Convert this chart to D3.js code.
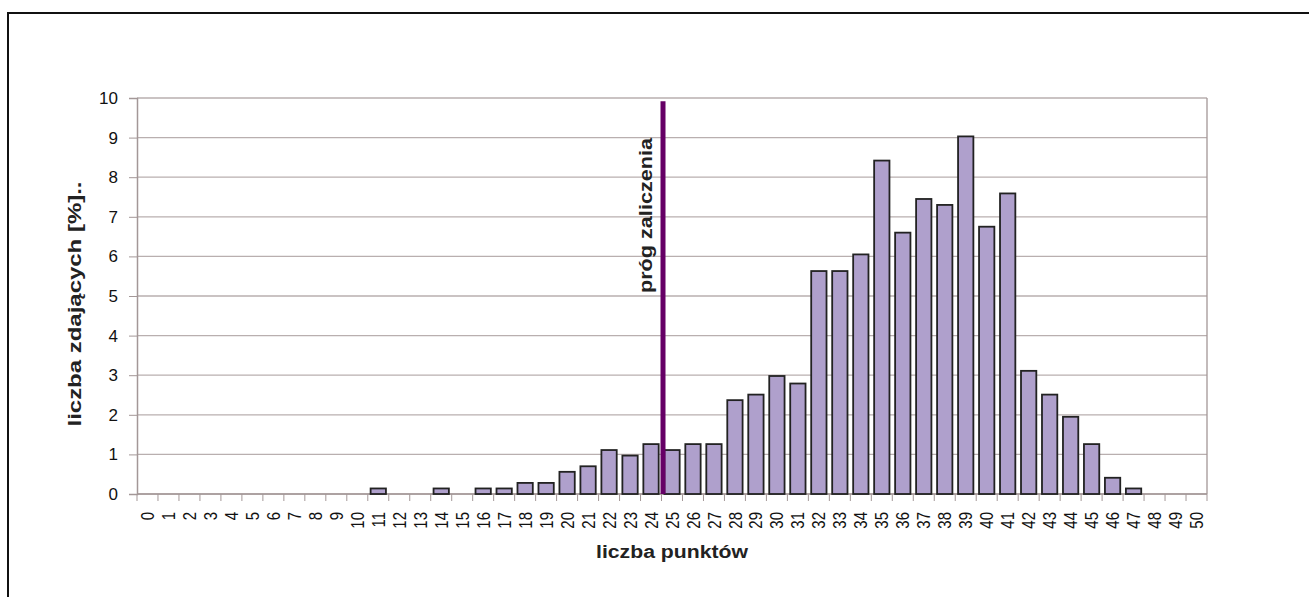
<!DOCTYPE html>
<html>
<head>
<meta charset="utf-8">
<script src="https://cdn.jsdelivr.net/npm/d3@7"></script>
<style>
  body { margin: 0; background: #fff; }
  svg { display: block; font-family: "Liberation Sans", Arial, sans-serif; }
</style>
</head>
<body>
<svg id="chart" width="1309" height="597"></svg>
<script>
// punkty 0..50
var points = d3.range(0, 51);
// procent zdajacych dla kazdej liczby punktow
var percent = [0, 0, 0, 0, 0, 0, 0, 0, 0, 0, 0, 0.14, 0, 0, 0.14, 0, 0.14, 0.14, 0.28, 0.28,
               0.56, 0.70, 1.11, 0.97, 1.26, 1.11, 1.26, 1.26, 2.37, 2.51, 2.98, 2.79, 5.63, 5.63, 6.05,
               8.42, 6.60, 7.45, 7.30, 9.03, 6.75, 7.59, 3.11, 2.51, 1.95, 1.26, 0.41, 0.14, 0, 0, 0];
var yTicks = d3.range(0, 11);
var threshold = 25;

var margin = {top: 98, right: 102, bottom: 103, left: 137},
    width = 1309 - margin.left - margin.right,
    height = 597 - margin.top - margin.bottom;

var svg = d3.select("#chart");

// ramka
svg.append("rect")
    .attr("x", 8).attr("y", 13)
    .attr("width", 1320).attr("height", 620)
    .attr("fill", "none")
    .attr("stroke", "#111")
    .attr("stroke-width", 2);

var g = svg.append("g")
    .attr("transform", "translate(" + margin.left + "," + margin.top + ")");

var x = d3.scaleBand()
    .domain(points)
    .range([0, width])
    .paddingInner(0.27)
    .paddingOuter(0.135);

var y = d3.scaleLinear()
    .domain([0, 10])
    .range([height, 0]);

var gridColor = "#b9afaf";
var axisColor = "#a39797";

// linie siatki
g.selectAll(".grid")
    .data(yTicks)
    .enter()
    .append("line")
    .attr("class", "grid")
    .attr("x1", 0)
    .attr("x2", width)
    .attr("y1", function(d) { return y(d); })
    .attr("y2", function(d) { return y(d); })
    .attr("stroke", gridColor)
    .attr("stroke-width", 1.3);

// prawa krawedz
g.append("line")
    .attr("x1", width).attr("x2", width)
    .attr("y1", 0).attr("y2", height)
    .attr("stroke", axisColor)
    .attr("stroke-width", 1.3);

// os Y
var yAxis = d3.axisLeft(y).tickValues(yTicks).tickSize(8).tickPadding(11);
var gy = g.append("g").call(yAxis);
gy.select(".domain").attr("stroke", axisColor).attr("stroke-width", 1.5);
gy.selectAll(".tick line").attr("stroke", axisColor);
gy.selectAll(".tick text").attr("font-size", 17).attr("fill", "#111")
    .attr("font-family", "Liberation Sans, Arial, sans-serif");

// os X - znaczniki na granicach kategorii
var step = x.step();
var xEdge = function(i) { return x(points[0]) - x.paddingOuter() * step + i * step; };
g.append("g")
    .selectAll("line")
    .data(d3.range(0, points.length + 1))
    .enter()
    .append("line")
    .attr("x1", function(i) { return xEdge(i); })
    .attr("x2", function(i) { return xEdge(i); })
    .attr("y1", height)
    .attr("y2", height + 7)
    .attr("stroke", axisColor);

g.append("line")
    .attr("x1", 0).attr("x2", width)
    .attr("y1", height).attr("y2", height)
    .attr("stroke", axisColor)
    .attr("stroke-width", 1.5);

g.selectAll(".xlabel")
    .data(points)
    .enter()
    .append("text")
    .attr("class", "xlabel")
    .attr("transform", function(d) {
        return "translate(" + (x(d) + x.bandwidth() / 2) + "," + (height + 18) + ") rotate(-90) scale(1,1.25)";
    })
    .attr("dy", "0.35em")
    .attr("text-anchor", "end")
    .attr("font-size", 15)
    .attr("fill", "#111")
    .text(function(d) { return d; });

// slupki
g.selectAll(".bar")
    .data(points.filter(function(d) { return percent[d] > 0; }))
    .enter()
    .append("rect")
    .attr("class", "bar")
    .attr("x", function(d) { return x(d); })
    .attr("y", function(d) { return y(percent[d]); })
    .attr("width", x.bandwidth())
    .attr("height", function(d) { return height - y(percent[d]); })
    .attr("fill", "#afa0cc")
    .attr("stroke", "#222")
    .attr("stroke-width", 1.8);

// prog zaliczenia
var tx = xEdge(threshold) + 1.5;
g.append("line")
    .attr("x1", tx).attr("x2", tx)
    .attr("y1", y(9.92)).attr("y2", height)
    .attr("stroke", "#660066")
    .attr("stroke-width", 5);

g.append("text")
    .attr("transform", "translate(" + (tx - 11) + "," + (138 - margin.top) + ") rotate(-90)")
    .attr("text-anchor", "end")
    .attr("font-size", 18)
    .attr("font-weight", "bold")
    .attr("fill", "#222")
    .attr("textLength", 155)
    .attr("lengthAdjust", "spacingAndGlyphs")
    .text("próg zaliczenia");

// tytuly osi
svg.append("text")
    .attr("x", margin.left + width / 2)
    .attr("y", 558)
    .attr("text-anchor", "middle")
    .attr("font-size", 18)
    .attr("font-weight", "bold")
    .attr("fill", "#222")
    .attr("textLength", 152)
    .attr("lengthAdjust", "spacingAndGlyphs")
    .text("liczba punktów");

svg.append("text")
    .attr("transform", "translate(81,304) rotate(-90)")
    .attr("text-anchor", "middle")
    .attr("font-size", 19)
    .attr("font-weight", "bold")
    .attr("fill", "#222")
    .attr("textLength", 245)
    .attr("lengthAdjust", "spacingAndGlyphs")
    .text("liczba zdających [%]..");
</script>
</body>
</html>
